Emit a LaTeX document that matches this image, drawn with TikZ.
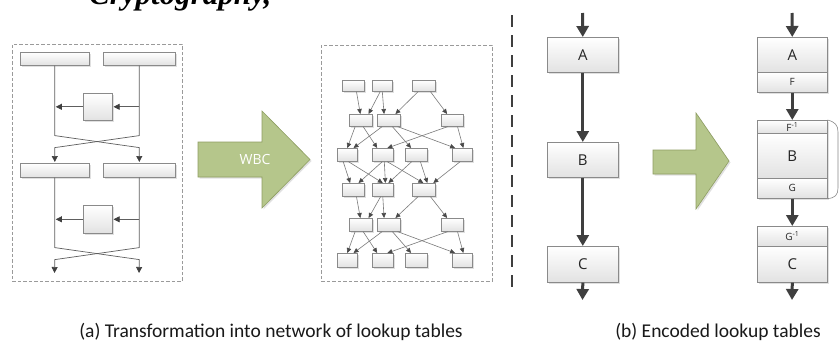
\documentclass[tikz,border=0pt]{standalone}
\usepackage{fontspec}
\setmainfont{Carlito}
\newfontfamily\lblfont{Open Sans}
\newfontfamily\topfont{Liberation Serif}
\usetikzlibrary{arrows.meta,shadows,calc}
\definecolor{boxline}{HTML}{8A8A8A}
\definecolor{lngray}{HTML}{5E5E5E}
\definecolor{edgegray}{HTML}{7A7A7A}
\definecolor{tipgray}{HTML}{4A4A4A}
\definecolor{darkarrow}{HTML}{3F3F3F}
\definecolor{greenfill}{HTML}{B5C68B}
\definecolor{greenline}{HTML}{8E9E62}
\definecolor{boxbot}{HTML}{E2E2E2}
\definecolor{framegray}{HTML}{9A9A9A}
\tikzset{
 tbl/.style={draw=boxline, line width=0.6pt, top color=white, bottom color=boxbot, inner sep=0pt, anchor=north west,
   drop shadow={shadow xshift=1.5pt, shadow yshift=-1.5pt, fill=black, opacity=0.12}},
 framebox/.style={draw=framegray, line width=0.8pt, dash pattern=on 3.5pt off 2pt, inner sep=0pt, anchor=north west},
 thinln/.style={draw=lngray, line width=0.7pt, -{Triangle[length=6pt,width=6pt,color=darkarrow]}, shorten >=1pt},
 nl/.style={draw=edgegray, line width=0.6pt, -{Triangle[length=5pt,width=4.5pt,color=tipgray]}},
 bigarr/.style={draw=darkarrow, line width=3pt, -{Triangle[length=11pt,width=12pt]}},
 greenarr/.style={fill=greenfill, draw=greenline, line width=0.6pt},
 lbl/.style={font=\lblfont\fontsize{15}{15}\selectfont, text=black!85},
 sml/.style={font=\lblfont\fontsize{10}{10}\selectfont, text=black!85},
 captxt/.style={font=\fontsize{19.5}{20}\selectfont, text=black!90, inner sep=0pt, anchor=base},
}
\newcommand\tb[7][]{\node[tbl,#1,minimum width={(#5-#3)*1pt},minimum height={(#6-#4)*1pt}] (#2) at (#3,#4) {#7};}
\newcommand\lk[4]{\draw[nl] ($(#1.south west)!#2!(#1.south east)$) -- ($(#3.north west)!#4!(#3.north east)$);}
\begin{document}
\begin{tikzpicture}[x=1pt,y=-1pt]
\useasboundingbox (0,0) rectangle (839,343);
\fill[white] (0,0) rectangle (839,343);
% cut-off text at the top (only its lowest part lies inside the picture)
\begin{scope}
\clip (0,0) rectangle (839,343);
\node[anchor=base west, inner sep=0pt, font=\topfont\bfseries\itshape\fontsize{31}{31}\selectfont] (toptext) at (89,4) {Cryptography,};
\end{scope}
% ---------- panel (a) left ----------
\node[framebox, minimum width=170pt, minimum height=237pt] (fa) at (12,44) {};
\tb{ta1}{20}{52}{89}{65}{}
\tb{ta2}{103}{52}{175}{65}{}
\tb{sa}{83}{93}{112}{120}{}
\tb{tb1}{20}{163}{89}{177}{}
\tb{tb2}{103}{163}{175}{177}{}
\tb{sb}{83}{205}{112}{233}{}
\coordinate (oa1) at (54.5,274);
\coordinate (oa2) at (139,274);
\draw[thinln] (ta1.south) -- ++(0,70) -- ++(84.5,12) -- (tb2.north);
\draw[thinln] (ta2.south) -- ++(0,70) -- ++(-84.5,12) -- (tb1.north);
\draw[thinln] (sa.east -| ta2.south) -- (sa.east);
\draw[thinln] (sa.west) -- (sa.west -| ta1.south);
\draw[thinln] (tb1.south) -- ++(0,70) -- ++(84.5,12) -- (oa2);
\draw[thinln] (tb2.south) -- ++(0,70) -- ++(-84.5,12) -- (oa1);
\draw[thinln] (sb.east -| tb2.south) -- (sb.east);
\draw[thinln] (sb.west) -- (sb.west -| tb1.south);
% WBC arrow
\fill[black, opacity=0.12, shift={(1.5,1.5)}] (198,142) -- (262,142) -- (262,111) -- (310,159.5) -- (262,208) -- (262,177) -- (198,177) -- cycle;
\draw[greenarr] (198,142) -- (262,142) -- (262,111) -- (310,159.5) -- (262,208) -- (262,177) -- (198,177) -- cycle;
\node[font=\lblfont\fontsize{14}{14}\selectfont, text=white] (wbc) at (255,159.5) {WBC};
% ---------- panel (a) network ----------
\node[framebox, minimum width=171pt, minimum height=236pt] (fb) at (321,45) {};
\tb{n11}{342}{80}{364}{91}{}
\tb{n12}{372}{80}{392}{91}{}
\tb{n13}{412}{80}{435}{91}{}
\tb{n21}{349}{114}{372}{126}{}
\tb{n22}{377}{114}{400}{126}{}
\tb{n23}{441}{114}{463}{126}{}
\tb{n31}{337}{148}{357}{161}{}
\tb{n32}{372}{148}{393}{161}{}
\tb{n33}{405}{148}{427}{161}{}
\tb{n34}{452}{148}{472}{161}{}
\tb{n41}{342}{183}{364}{196}{}
\tb{n42}{372}{183}{393}{196}{}
\tb{n43}{412}{183}{435}{196}{}
\tb{n51}{349}{218}{372}{231}{}
\tb{n52}{377}{218}{400}{231}{}
\tb{n53}{441}{218}{463}{231}{}
\tb{n61}{337}{253}{357}{267}{}
\tb{n62}{372}{253}{393}{267}{}
\tb{n63}{405}{253}{427}{267}{}
\tb{n64}{452}{253}{472}{267}{}
% row1 -> row2
\lk{n11}{0.64}{n21}{0.48}
\lk{n12}{0.4}{n21}{0.83}
\lk{n12}{0.5}{n22}{0.3}
\lk{n13}{0.26}{n22}{0.78}
\lk{n13}{0.78}{n23}{0.27}
% row2 -> row3
\lk{n21}{0.26}{n31}{0.5}
\lk{n21}{0.6}{n32}{0.24}
\lk{n22}{0.22}{n31}{0.8}
\lk{n22}{0.65}{n33}{0.27}
\lk{n22}{0.87}{n34}{0.15}
\lk{n23}{0.3}{n32}{0.71}
\lk{n23}{0.73}{n34}{0.55}
% row3 -> row4
\lk{n31}{0.3}{n41}{0.36}
\lk{n31}{0.55}{n42}{0.5}
\lk{n32}{0.48}{n41}{0.73}
\lk{n32}{0.57}{n42}{0.62}
\lk{n32}{0.7}{n43}{0.48}
\lk{n33}{0.3}{n42}{0.76}
\lk{n33}{0.68}{n43}{0.65}
\lk{n34}{0.4}{n43}{0.9}
% row4 -> row5
\lk{n41}{0.64}{n51}{0.48}
\lk{n42}{0.4}{n51}{0.83}
\lk{n42}{0.5}{n52}{0.3}
\lk{n43}{0.26}{n52}{0.78}
\lk{n43}{0.78}{n53}{0.27}
% row5 -> row6
\lk{n51}{0.26}{n61}{0.5}
\lk{n51}{0.6}{n62}{0.24}
\lk{n52}{0.22}{n61}{0.8}
\lk{n52}{0.65}{n63}{0.27}
\lk{n52}{0.87}{n64}{0.15}
\lk{n53}{0.3}{n62}{0.71}
\lk{n53}{0.73}{n64}{0.55}
% ---------- separator ----------
\coordinate (sep1) at (512,15);
\coordinate (sep2) at (512,292);
\draw[darkarrow, line width=2.5pt, dash pattern=on 12pt off 8pt] (sep1) -- (sep2);
% ---------- panel (b) ----------
\tb[lbl]{bA}{547}{37}{618}{72}{A}
\tb[lbl]{bB}{547}{142}{618}{177}{B}
\tb[lbl]{bC}{547}{246}{618}{282}{C}
\coordinate (ti1) at (582.5,13);
\coordinate (to1) at (582.5,300);
\draw[bigarr] (ti1) -- (bA.north);
\draw[bigarr] (bA.south) -- (bB.north);
\draw[bigarr] (bB.south) -- (bC.north);
\draw[bigarr] (bC.south) -- (to1);
% green arrow (b)
\fill[black, opacity=0.12, shift={(1.5,1.5)}] (653,150) -- (696,150) -- (696,113) -- (729,161) -- (696,209) -- (696,174) -- (653,174) -- cycle;
\draw[greenarr] (653,150) -- (696,150) -- (696,113) -- (729,161) -- (696,209) -- (696,174) -- (653,174) -- cycle;
% right column
\tb[lbl]{eA}{757}{37}{827}{72}{A}
\tb[sml]{eF}{757}{72}{827}{92}{F}
\tb[sml]{eFi}{757}{120}{827}{133}{F\textsuperscript{-1}}
\tb[lbl]{eB}{757}{133}{827}{178}{B}
\tb[sml]{eG}{757}{178}{827}{198}{G}
\tb[sml]{eGi}{757}{226}{827}{246}{G\textsuperscript{-1}}
\tb[lbl]{eC}{757}{246}{827}{282}{C}
\coordinate (ti2) at (792,13);
\coordinate (to2) at (792,300);
\draw[bigarr] (ti2) -- (eA.north);
\draw[bigarr] (eF.south) -- (eFi.north);
\draw[bigarr] (eG.south) -- (eGi.north);
\draw[bigarr] (eC.south) -- (to2);
\draw[boxline, line width=0.6pt] (eFi.north east) .. controls (835,122) and (838,125) .. (838,132) -- (838,188) .. controls (838,195) and (835,198) .. (eG.south east);
% ---------- captions ----------
\node[captxt] (capa) at (271,337) {(a) Transformation into network of lookup tables};
\node[captxt] (capb) at (718,337) {(b) Encoded lookup tables};
\end{tikzpicture}
\end{document}
